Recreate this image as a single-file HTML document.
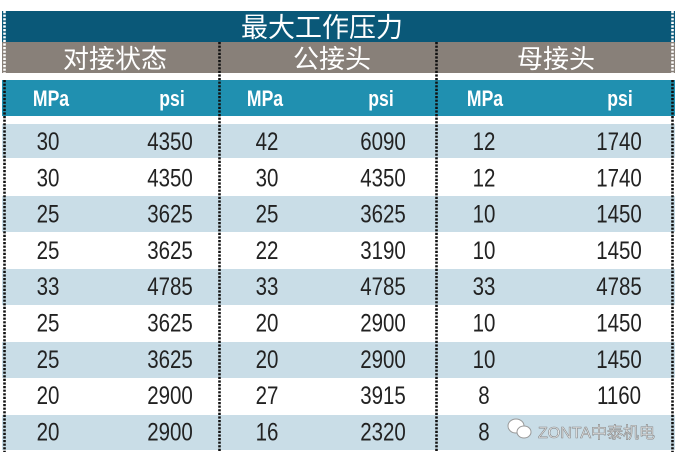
<!DOCTYPE html>
<html><head><meta charset="utf-8"><style>
html,body{margin:0;padding:0;background:#fff;}
svg{display:block;}
text{font-family:"Liberation Sans","Noto Sans CJK SC",sans-serif;}
</style></head><body>
<svg width="679" height="460" viewBox="0 0 679 460" xmlns="http://www.w3.org/2000/svg">
<rect x="0" y="0" width="679" height="460" fill="#fff"/>
<rect x="2" y="11" width="673" height="31" fill="#0a5878"/>
<rect x="2" y="42" width="673" height="31" fill="#888079"/>
<rect x="2" y="80" width="673" height="36" fill="#2090b0"/>
<g fill="#c9dde7">
<rect x="2" y="124" width="673" height="34"/>
<rect x="2" y="196" width="673" height="36"/>
<rect x="2" y="269" width="673" height="36"/>
<rect x="2" y="342" width="673" height="36"/>
<rect x="2" y="415" width="673" height="35"/>
</g>
<g fill="#fff" text-anchor="middle">
<text x="322" y="37" font-size="27">最大工作压力</text>
<text x="115" y="68" font-size="26">对接状态</text>
<text x="332" y="68" font-size="26">公接头</text>
<text x="556" y="68" font-size="26">母接头</text>
</g>
<g fill="#fff" font-size="22" font-weight="bold" text-anchor="middle">
<text transform="translate(51,106) scale(0.8,1)">MPa</text>
<text transform="translate(172,106) scale(0.8,1)">psi</text>
<text transform="translate(265,106) scale(0.8,1)">MPa</text>
<text transform="translate(381,106) scale(0.8,1)">psi</text>
<text transform="translate(485,106) scale(0.8,1)">MPa</text>
<text transform="translate(620,106) scale(0.8,1)">psi</text>
</g>
<g fill="#222" font-size="25" text-anchor="middle" id="d"></g>
<g stroke-width="2.6" stroke-dasharray="2.2 1.4" fill="none">
<line x1="4.5" y1="11" x2="4.5" y2="73" stroke="#fff"/>
<line x1="4.5" y1="80" x2="4.5" y2="116" stroke="#111"/>
<line x1="4.5" y1="116" x2="4.5" y2="452" stroke="#111"/>
<line x1="672.5" y1="11" x2="672.5" y2="73" stroke="#fff"/>
<line x1="672.5" y1="80" x2="672.5" y2="452" stroke="#111"/>
<line x1="219.5" y1="42" x2="219.5" y2="452" stroke="#111"/>
<line x1="436.5" y1="42" x2="436.5" y2="452" stroke="#111"/>
</g>
<g fill="#fff" stroke="#999" stroke-width="1">
<ellipse cx="516" cy="426" rx="8" ry="7"/>
<ellipse cx="524" cy="432" rx="7" ry="6"/>
</g>
<text x="538" y="438" font-size="16" fill="#eee" stroke="#888" stroke-width="0.6">ZONTA中泰机电</text>
</svg>
<script>
var rows=[[30,4350,42,6090,12,1740],[30,4350,30,4350,12,1740],[25,3625,25,3625,10,1450],[25,3625,22,3190,10,1450],[33,4785,33,4785,33,4785],[25,3625,20,2900,10,1450],[25,3625,20,2900,10,1450],[20,2900,27,3915,8,1160],[20,2900,16,2320,8,1160]];
var xs=[48,170,267,383,484,619],g=document.getElementById('d'),h='';
rows.forEach(function(r,i){var y=124+i*36.3+26;r.forEach(function(v,j){
if(i==8&&j==5)return;
h+='<text transform="translate('+xs[j]+','+y.toFixed(1)+') scale(0.82,1)">'+v+'</text>';});});
g.innerHTML=h;
</script>
</body></html>
